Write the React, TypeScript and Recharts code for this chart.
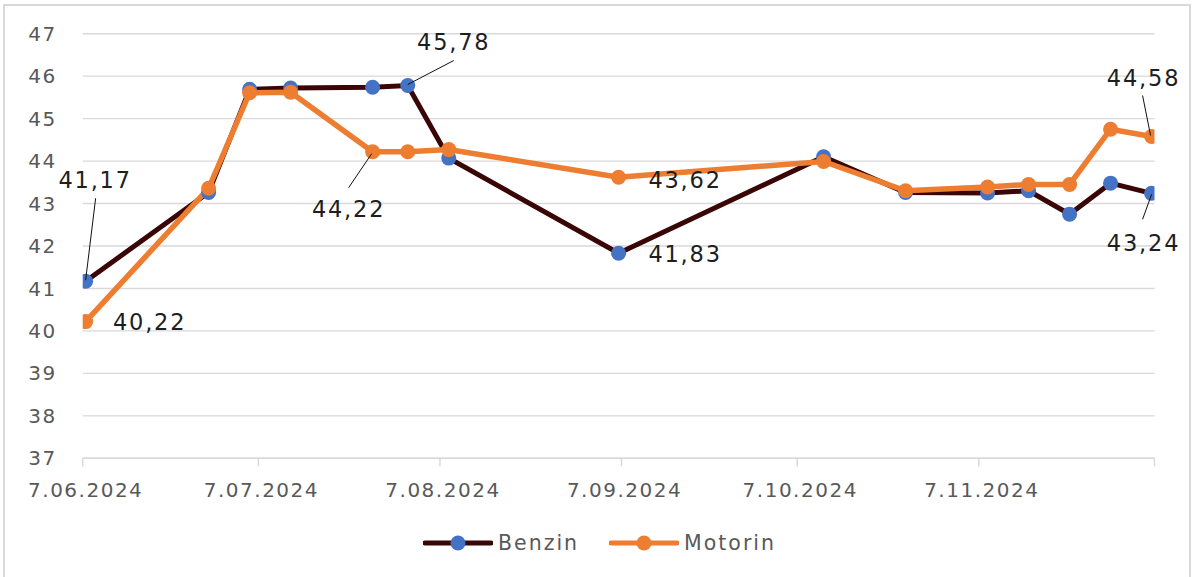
import React from 'react';
import { LineChart, Line, XAxis, YAxis, CartesianGrid, Legend, LabelList } from 'recharts';

// ---- data ----
const dates = [
  '2024-06-07', '2024-06-28', '2024-07-05', '2024-07-12', '2024-07-26',
  '2024-08-01', '2024-08-08', '2024-09-06', '2024-10-11', '2024-10-25',
  '2024-11-08', '2024-11-15', '2024-11-22', '2024-11-29', '2024-12-06',
];
const benzin = [41.17, 43.26, 45.69, 45.72, 45.74, 45.78, 44.07, 41.83, 44.1, 43.26, 43.25, 43.3, 42.75, 43.48, 43.24];
const motorin = [40.22, 43.36, 45.61, 45.62, 44.22, 44.22, 44.27, 43.62, 43.99, 43.3, 43.39, 43.45, 43.45, 44.75, 44.58];
const tickDates = ['2024-06-07', '2024-07-07', '2024-08-07', '2024-09-07', '2024-10-07', '2024-11-07', '2024-12-07'];
const tickLabels = ['7.06.2024', '7.07.2024', '7.08.2024', '7.09.2024', '7.10.2024', '7.11.2024', ''];
const yTicks = [37, 38, 39, 40, 41, 42, 43, 44, 45, 46, 47];
const seriesNames = ['Benzin', 'Motorin'];

// ---- derived table ----
const DAY = 86400000;
const dayOf = (s: string) => (Date.parse(s + 'T00:00:00Z') - Date.parse(tickDates[0] + 'T00:00:00Z')) / DAY;
const tickDays = tickDates.map(dayOf);
const rows = dates.map((d, i) => ({ t: dayOf(d) + 0.5, benzin: benzin[i], motorin: motorin[i] }));

// ---- styles ----
const FONT = '"DejaVu Sans", Verdana, sans-serif';
const BENZIN_LINE = '#3a0505';
const BENZIN_DOT = '#4472C4';
const MOTORIN = '#ED7D31';
const GRID = '#d9d9d9';
const AXIS_TEXT = '#595959';

type Callout = { dx: number; dy: number; leader?: [number, number, number, number] };
const benzinCallouts: Record<number, Callout> = {
  0: { dx: 8.5, dy: -101, leader: [0, -1, 10, -83] },
  5: { dx: 45, dy: -44, leader: [0, -1, 46, -25] },
  7: { dx: 65.5, dy: 1 },
  14: { dx: -9, dy: 50, leader: [0, 1, -9, 26] },
};
const motorinCallouts: Record<number, Callout> = {
  0: { dx: 63, dy: 0 },
  4: { dx: -25, dy: 57, leader: [-1, 2, -24, 36] },
  7: { dx: 65.5, dy: 3 },
  14: { dx: -9, dy: -58, leader: [-1, -1, -9, -41] },
};

const makeLabel = (callouts: Record<number, Callout>) => (props: any) => {
  const { index, value } = props;
  const c = callouts[index];
  if (!c) return null;
  const px = props.x ?? props.viewBox?.x;
  const py = props.y ?? props.viewBox?.y;
  if (px == null || py == null) return null;
  const text = Number(value).toFixed(2).replace('.', ',');
  return (
    <g key={`lbl-${index}`}>
      {c.leader && (
        <line
          x1={px + c.leader[0]}
          y1={py + c.leader[1]}
          x2={px + c.leader[2]}
          y2={py + c.leader[3]}
          stroke="#111"
          strokeWidth={1}
        />
      )}
      <text
        x={px + c.dx + 1}
        y={py + c.dy + 8}
        textAnchor="middle"
        fontFamily={FONT}
        fontSize={22.5}
        style={{ letterSpacing: 1.8 }}
        fill="#1e1e1e"
      >
        {text}
      </text>
    </g>
  );
};

const XTick = (props: any) => {
  const { x, y, payload, index } = props;
  const i = tickDays.indexOf(payload.value);
  const label = i >= 0 ? tickLabels[i] : '';
  if (!label) return null;
  return (
    <text
      key={`xt-${index}`}
      x={x + 3}
      y={y}
      dy={16.5}
      textAnchor="middle"
      fontFamily={FONT}
      fontSize={20}
      style={{ letterSpacing: 1.5 }}
      fill={AXIS_TEXT}
    >
      {label}
    </text>
  );
};

const LegendIcon = ({ line, dot }: { line: string; dot: string }) => (
  <svg width={70} height={20} style={{ display: 'block' }}>
    <line x1={2} y1={10} x2={68} y2={10} stroke={line} strokeWidth={5} strokeLinecap="round" />
    <circle cx={35} cy={10} r={7.5} fill={dot} />
  </svg>
);

const LegendContent = () => (
  <div
    style={{
      height: 40,
      display: 'flex',
      alignItems: 'center',
      justifyContent: 'center',
      paddingLeft: 6,
      fontFamily: FONT,
      fontSize: 20.5,
      letterSpacing: 2,
      color: AXIS_TEXT,
    }}
  >
    <div style={{ display: 'flex', alignItems: 'center' }}>
      <LegendIcon line={BENZIN_LINE} dot={BENZIN_DOT} />
      <span style={{ marginLeft: 5 }}>{seriesNames[0]}</span>
    </div>
    <div style={{ display: 'flex', alignItems: 'center', marginLeft: 30 }}>
      <LegendIcon line={MOTORIN} dot={MOTORIN} />
      <span style={{ marginLeft: 5 }}>{seriesNames[1]}</span>
    </div>
  </div>
);

export default function App() {
  return (
    <div style={{ position: 'absolute', left: 0, top: 0, width: 1193, height: 577, background: '#fff', overflow: 'hidden' }}>
      <div
        style={{
          position: 'absolute',
          left: 3,
          top: 4,
          width: 1188,
          height: 590,
          border: '2px solid #d9d9d9',
          boxSizing: 'border-box',
        }}
      />
      <div style={{ position: 'absolute', left: 0, top: 0 }}>
        <LineChart
          width={1193}
          height={577}
          data={rows}
          margin={{ top: 33.7, right: 38.5, left: 0, bottom: 14 }}
        >
          <CartesianGrid vertical={false} stroke={GRID} strokeWidth={1.4} />
          <XAxis
            dataKey="t"
            type="number"
            domain={[tickDays[0], tickDays[tickDays.length - 1]]}
            ticks={tickDays}
            interval={0}
            height={64.7}
            tickSize={8}
            tickMargin={14}
            axisLine={{ stroke: GRID, strokeWidth: 1.5 }}
            tickLine={{ stroke: GRID, strokeWidth: 1.5 }}
            tick={<XTick />}
            allowDataOverflow
          />
          <YAxis
            type="number"
            domain={[37, 47]}
            ticks={yTicks}
            interval={0}
            width={82.7}
            axisLine={false}
            tickLine={false}
            tickSize={0}
            tickMargin={26}
            tick={{ fill: AXIS_TEXT, fontSize: 20, fontFamily: FONT, style: { letterSpacing: 1.5 } } as any}
          />
          <Legend verticalAlign="bottom" content={<LegendContent />} wrapperStyle={{ left: 0, width: 1193 }} />
          <Line
            name={seriesNames[0]}
            dataKey="benzin"
            stroke={BENZIN_LINE}
            strokeWidth={5}
            dot={{ r: 7.5, fill: BENZIN_DOT, stroke: BENZIN_DOT, strokeWidth: 0 }}
            activeDot={false}
            isAnimationActive={false}
          >
            <LabelList dataKey="benzin" content={makeLabel(benzinCallouts)} />
          </Line>
          <Line
            name={seriesNames[1]}
            dataKey="motorin"
            stroke={MOTORIN}
            strokeWidth={5.5}
            dot={{ r: 7.5, fill: MOTORIN, stroke: MOTORIN, strokeWidth: 0 }}
            activeDot={false}
            isAnimationActive={false}
          >
            <LabelList dataKey="motorin" content={makeLabel(motorinCallouts)} />
          </Line>
        </LineChart>
      </div>
    </div>
  );
}
